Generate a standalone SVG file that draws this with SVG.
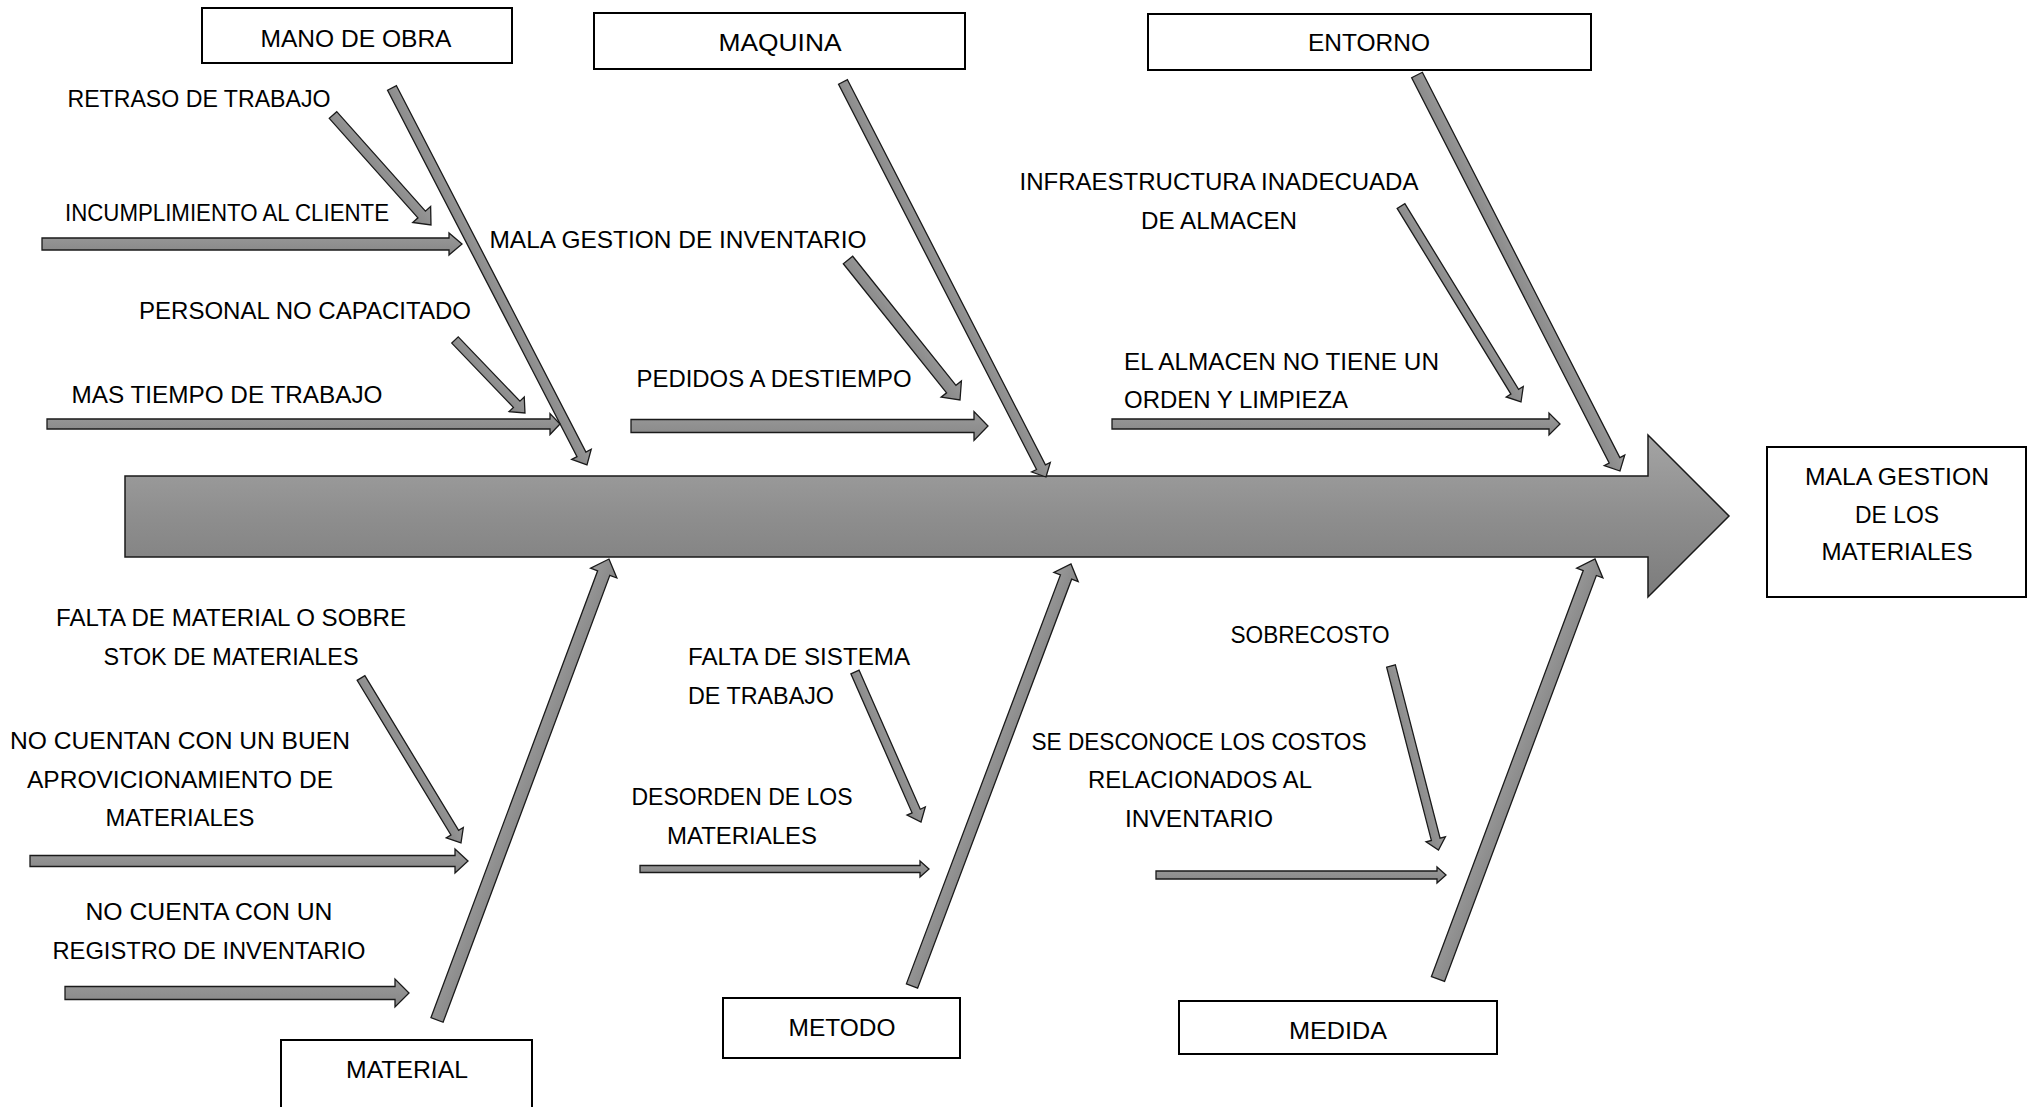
<svg xmlns="http://www.w3.org/2000/svg" width="2030" height="1107" viewBox="0 0 2030 1107">
<defs>
<linearGradient id="spineGrad" x1="0" y1="0" x2="0" y2="1">
<stop offset="0" stop-color="#a4a4a4"/>
<stop offset="0.5" stop-color="#8e8e8e"/>
<stop offset="1" stop-color="#7c7c7c"/>
</linearGradient>
<linearGradient id="arrGrad" x1="0" y1="0" x2="0" y2="1">
<stop offset="0" stop-color="#9a9a9a"/>
<stop offset="1" stop-color="#868686"/>
</linearGradient>
</defs>
<style>
.box{fill:#ffffff;stroke:#000000;stroke-width:2}
.arr{fill:url(#arrGrad);stroke:#1a1a1a;stroke-width:1.3;stroke-linejoin:miter}
.spine{fill:url(#spineGrad);stroke:#1a1a1a;stroke-width:1.5}
text{font-family:"Liberation Sans",Arial,sans-serif;font-size:24px;fill:#000000}
.c{text-anchor:middle}
.s{text-anchor:start}
</style>
<rect width="2030" height="1107" fill="#ffffff"/>

<g id="connectors">
<path id="spine" class="spine" d="M125,476H1648V435L1729,516L1648,597V557H125Z"/>
<path id="bone-mano" class="arr" transform="translate(392,88) rotate(62.65)" d="M0,-5H412.4V-11L424.4,0L412.4,11V5H0Z"/>
<path id="bone-maquina" class="arr" transform="translate(843,82) rotate(62.8)" d="M0,-5H433.1V-10.5L444.1,0L433.1,10.5V5H0Z"/>
<path id="bone-entorno" class="arr" transform="translate(1417,75) rotate(62.86)" d="M0,-6H433V-11.5L445,0L433,11.5V6H0Z"/>
<path id="bone-material" class="arr" transform="translate(437,1020) rotate(-69.54)" d="M0,-6.5H477V-14L492,0L477,14V6.5H0Z"/>
<path id="bone-metodo" class="arr" transform="translate(912,986) rotate(-69.36)" d="M0,-6H437V-13L451,0L437,13V6H0Z"/>
<path id="bone-medida" class="arr" transform="translate(1438,979) rotate(-69.5)" d="M0,-7H433.4V-14L448.4,0L433.4,14V7H0Z"/>
<path id="a-retraso" class="arr" transform="translate(333,115) rotate(48.3)" d="M0,-5H133.3V-12L147.3,0L133.3,12V5H0Z"/>
<path id="a-incumplimiento" class="arr" transform="translate(42,244)" d="M0,-6H407V-11L420,0L407,11V6H0Z"/>
<path id="a-personal" class="arr" transform="translate(455,340) rotate(46.2)" d="M0,-4.5H89.1V-10.5L101.1,0L89.1,10.5V4.5H0Z"/>
<path id="a-mastiempo" class="arr" transform="translate(47,424)" d="M0,-5H503V-10.5L513,0L503,10.5V5H0Z"/>
<path id="a-malagestion" class="arr" transform="translate(848,260) rotate(51.34)" d="M0,-6H165.3V-13L179.3,0L165.3,13V6H0Z"/>
<path id="a-pedidos" class="arr" transform="translate(631,426)" d="M0,-6.5H343V-14.5L357,0L343,14.5V6.5H0Z"/>
<path id="a-infraestructura" class="arr" transform="translate(1401,206) rotate(58.52)" d="M0,-4.5H217.8V-10L229.8,0L217.8,10V4.5H0Z"/>
<path id="a-almacen" class="arr" transform="translate(1112,424)" d="M0,-5H437V-11L448,0L437,11V5H0Z"/>
<path id="a-faltamaterial" class="arr" transform="translate(361,678) rotate(58.78)" d="M0,-4.5H180.9V-10L192.9,0L180.9,10V4.5H0Z"/>
<path id="a-nocuentan" class="arr" transform="translate(30,861)" d="M0,-5.5H425V-12L438,0L425,12V5.5H0Z"/>
<path id="a-registro" class="arr" transform="translate(65,993)" d="M0,-6.5H330V-14L344,0L330,14V6.5H0Z"/>
<path id="a-faltasistema" class="arr" transform="translate(855,672) rotate(66.25)" d="M0,-4.5H151.9V-10L163.9,0L151.9,10V4.5H0Z"/>
<path id="a-desorden" class="arr" transform="translate(640,869)" d="M0,-3.5H280V-8L289,0L280,8V3.5H0Z"/>
<path id="a-sobrecosto" class="arr" transform="translate(1391,666) rotate(75.53)" d="M0,-4.5H179V-10L190,0L179,10V4.5H0Z"/>
<path id="a-desconoce" class="arr" transform="translate(1156,875)" d="M0,-4H281V-8L290,0L281,8V4H0Z"/>
</g>

<g id="node-mano-de-obra">
<rect class="box" x="202" y="8" width="310" height="55"/>
<text class="c" x="356" y="47" textLength="191" lengthAdjust="spacingAndGlyphs">MANO DE OBRA</text>
</g>
<g id="node-maquina">
<rect class="box" x="594" y="13" width="371" height="56"/>
<text class="c" x="780" y="51" textLength="123" lengthAdjust="spacingAndGlyphs">MAQUINA</text>
</g>
<g id="node-entorno">
<rect class="box" x="1148" y="14" width="443" height="56"/>
<text class="c" x="1369" y="51" textLength="122" lengthAdjust="spacingAndGlyphs">ENTORNO</text>
</g>
<g id="node-efecto">
<rect class="box" x="1767" y="447" width="259" height="150"/>
<text class="c" x="1897" y="485" textLength="184" lengthAdjust="spacingAndGlyphs">MALA GESTION</text>
<text class="c" x="1897" y="523" textLength="84" lengthAdjust="spacingAndGlyphs">DE LOS</text>
<text class="c" x="1897" y="560" textLength="151" lengthAdjust="spacingAndGlyphs">MATERIALES</text>
</g>
<g id="node-material">
<rect class="box" x="281" y="1040" width="251" height="72"/>
<text class="c" x="407" y="1078" textLength="122" lengthAdjust="spacingAndGlyphs">MATERIAL</text>
</g>
<g id="node-metodo">
<rect class="box" x="723" y="998" width="237" height="60"/>
<text class="c" x="842" y="1036" textLength="107" lengthAdjust="spacingAndGlyphs">METODO</text>
</g>
<g id="node-medida">
<rect class="box" x="1179" y="1001" width="318" height="53"/>
<text class="c" x="1338" y="1039" textLength="98" lengthAdjust="spacingAndGlyphs">MEDIDA</text>
</g>

<g id="cause-labels">
<text class="c" x="199" y="107" textLength="263" lengthAdjust="spacingAndGlyphs">RETRASO DE TRABAJO</text>
<text class="c" x="227" y="221" textLength="324" lengthAdjust="spacingAndGlyphs">INCUMPLIMIENTO AL CLIENTE</text>
<text class="c" x="305" y="319" textLength="332" lengthAdjust="spacingAndGlyphs">PERSONAL NO CAPACITADO</text>
<text class="c" x="227" y="403" textLength="311" lengthAdjust="spacingAndGlyphs">MAS TIEMPO DE TRABAJO</text>
<text class="c" x="678" y="248" textLength="377" lengthAdjust="spacingAndGlyphs">MALA GESTION DE INVENTARIO</text>
<text class="c" x="774" y="387" textLength="275" lengthAdjust="spacingAndGlyphs">PEDIDOS A DESTIEMPO</text>
<text class="c" x="1219" y="190" textLength="399" lengthAdjust="spacingAndGlyphs">INFRAESTRUCTURA INADECUADA</text>
<text class="c" x="1219" y="229" textLength="156" lengthAdjust="spacingAndGlyphs">DE ALMACEN</text>
<text class="s" x="1124" y="370" textLength="315" lengthAdjust="spacingAndGlyphs">EL ALMACEN NO TIENE UN</text>
<text class="s" x="1124" y="408" textLength="224" lengthAdjust="spacingAndGlyphs">ORDEN Y LIMPIEZA</text>
<text class="c" x="231" y="626" textLength="350" lengthAdjust="spacingAndGlyphs">FALTA DE MATERIAL O SOBRE</text>
<text class="c" x="231" y="665" textLength="255" lengthAdjust="spacingAndGlyphs">STOK DE MATERIALES</text>
<text class="c" x="180" y="749" textLength="340" lengthAdjust="spacingAndGlyphs">NO CUENTAN CON UN BUEN</text>
<text class="c" x="180" y="788" textLength="306" lengthAdjust="spacingAndGlyphs">APROVICIONAMIENTO DE</text>
<text class="c" x="180" y="826" textLength="149" lengthAdjust="spacingAndGlyphs">MATERIALES</text>
<text class="c" x="209" y="920" textLength="247" lengthAdjust="spacingAndGlyphs">NO CUENTA CON UN</text>
<text class="c" x="209" y="959" textLength="313" lengthAdjust="spacingAndGlyphs">REGISTRO DE INVENTARIO</text>
<text class="s" x="688" y="665" textLength="222" lengthAdjust="spacingAndGlyphs">FALTA DE SISTEMA</text>
<text class="s" x="688" y="704" textLength="146" lengthAdjust="spacingAndGlyphs">DE TRABAJO</text>
<text class="c" x="742" y="805" textLength="221" lengthAdjust="spacingAndGlyphs">DESORDEN DE LOS</text>
<text class="c" x="742" y="844" textLength="150" lengthAdjust="spacingAndGlyphs">MATERIALES</text>
<text class="c" x="1199" y="750" textLength="335" lengthAdjust="spacingAndGlyphs">SE DESCONOCE LOS COSTOS</text>
<text class="c" x="1200" y="788" textLength="224" lengthAdjust="spacingAndGlyphs">RELACIONADOS AL</text>
<text class="c" x="1199" y="827" textLength="148" lengthAdjust="spacingAndGlyphs">INVENTARIO</text>
<text class="c" x="1310" y="643" textLength="159" lengthAdjust="spacingAndGlyphs">SOBRECOSTO</text>
</g>
</svg>
